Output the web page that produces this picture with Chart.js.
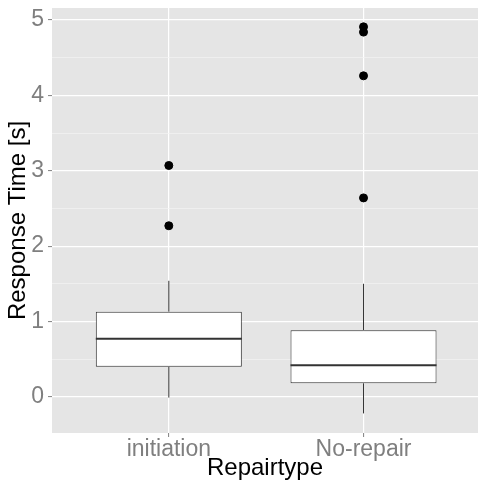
<!DOCTYPE html>
<html>
<head>
<meta charset="utf-8">
<script src="https://cdn.jsdelivr.net/npm/chart.js@4"></script>
<style>
  body { margin: 0; background: #fff; }
  #wrap { width: 478px; height: 481px; }
</style>
</head>
<body>
<div id="wrap"><canvas id="box-chart" width="478" height="481"></canvas></div>
<script>
// Daten
var categories = ['initiation', 'No-repair'];
var whiskerLow = [-0.01, -0.22];
var q1 = [0.40, 0.18];
var median = [0.77, 0.42];
var q3 = [1.13, 0.885];
var whiskerHigh = [1.54, 1.50];
var outliers = [
    [3.07, 2.27],
    [4.91, 4.84, 4.26, 2.64]
];
var yTicks = [0, 1, 2, 3, 4, 5];
var yMinorTicks = [0.5, 1.5, 2.5, 3.5, 4.5];

var boxColor = '#333333';
var halfBox = 0.375;

// Hintergrund des Panels
var panelBg = {
    id: 'panelBg',
    beforeDraw: (chart) => {
        var a = chart.chartArea;
        var ctx = chart.ctx;
        ctx.save();
        ctx.fillStyle = '#E5E5E5';
        ctx.fillRect(a.left, a.top, a.right - a.left, a.bottom - a.top);
        ctx.restore();
    }
};

var isMajor = (v) => yTicks.indexOf(v) !== -1;

// keine automatische Randabstaende durch die Achsenbeschriftung
var noPadding = (scale) => {
    scale.paddingTop = 0;
    scale.paddingBottom = 0;
    scale.paddingLeft = 0;
    scale.paddingRight = 0;
};

var datasets = [];

// Boxen
datasets.push({
    type: 'bar',
    data: categories.map((c, i) => ({ x: i + 1, y: [q1[i], q3[i]] })),
    backgroundColor: '#FFFFFF',
    borderColor: boxColor,
    borderWidth: 1,
    borderSkipped: false,
    categoryPercentage: 0.75,
    barPercentage: 1,
    order: 3
});

// Whisker
categories.forEach((c, i) => {
    datasets.push({
        type: 'line',
        data: [{ x: i + 1, y: q3[i] }, { x: i + 1, y: whiskerHigh[i] }],
        borderColor: boxColor, borderWidth: 1, pointRadius: 0, order: 4
    });
    datasets.push({
        type: 'line',
        data: [{ x: i + 1, y: whiskerLow[i] }, { x: i + 1, y: q1[i] }],
        borderColor: boxColor, borderWidth: 1, pointRadius: 0, order: 4
    });
    // Median
    datasets.push({
        type: 'line',
        data: [{ x: i + 1 - halfBox, y: median[i] }, { x: i + 1 + halfBox, y: median[i] }],
        borderColor: boxColor, borderWidth: 2, pointRadius: 0, order: 1
    });
});

// Ausreisser
datasets.push({
    type: 'scatter',
    data: outliers.flatMap((vals, i) => vals.map((v) => ({ x: i + 1, y: v }))),
    backgroundColor: '#000000',
    borderColor: '#000000',
    pointRadius: 4,
    order: 0
});

var tickFont = { family: 'Liberation Sans, Arial, sans-serif', size: 23 };
var titleFont = { family: 'Liberation Sans, Arial, sans-serif', size: 24, lineHeight: 1 };

var config = {
    type: 'bar',
    data: { datasets: datasets },
    options: {
        responsive: false,
        animation: false,
        layout: { autoPadding: false, padding: { top: 8, right: 0, left: 0, bottom: 0 } },
        plugins: { legend: { display: false }, tooltip: { enabled: false } },
        scales: {
            x: {
                type: 'linear',
                min: 0.4,
                max: 2.588,
                offset: false,
                afterBuildTicks: (scale) => {
                    scale.ticks = categories.map((c, i) => ({ value: i + 1 }));
                },
                afterFit: (scale) => { scale.height = 48; noPadding(scale); },
                grid: {
                    offset: false,
                    color: '#FFFFFF',
                    lineWidth: 1.2,
                    tickColor: '#7F7F7F',
                    tickLength: 4,
                    tickWidth: 1
                },
                border: { display: false },
                ticks: {
                    color: '#7F7F7F',
                    font: tickFont,
                    padding: -1,
                    maxRotation: 0,
                    callback: (v) => categories[Math.round(v) - 1]
                },
                title: {
                    display: true,
                    text: 'Repairtype',
                    color: '#000000',
                    font: titleFont,
                    padding: { top: 0, bottom: 1 }
                }
            },
            y: {
                type: 'linear',
                min: -0.48,
                max: 5.16,
                afterBuildTicks: (scale) => {
                    scale.ticks = yTicks.concat(yMinorTicks).sort((a, b) => a - b).map((v) => ({ value: v }));
                },
                afterFit: (scale) => { scale.width = 52; noPadding(scale); },
                grid: {
                    color: (ctx) => isMajor(ctx.tick.value) ? '#FFFFFF' : '#F4F4F4',
                    lineWidth: (ctx) => isMajor(ctx.tick.value) ? 1.2 : 0.7,
                    tickColor: (ctx) => isMajor(ctx.tick.value) ? '#7F7F7F' : 'rgba(0,0,0,0)',
                    tickLength: 4,
                    tickWidth: 1
                },
                border: { display: false },
                ticks: {
                    color: '#7F7F7F',
                    font: tickFont,
                    padding: 4,
                    callback: (v) => isMajor(v) ? String(v) : ''
                },
                title: {
                    display: true,
                    text: 'Response Time [s]',
                    color: '#000000',
                    font: titleFont,
                    padding: { top: 6, bottom: 0 }
                }
            }
        }
    },
    plugins: [panelBg]
};

new Chart(document.getElementById('box-chart').getContext('2d'), config);
</script>
</body>
</html>
